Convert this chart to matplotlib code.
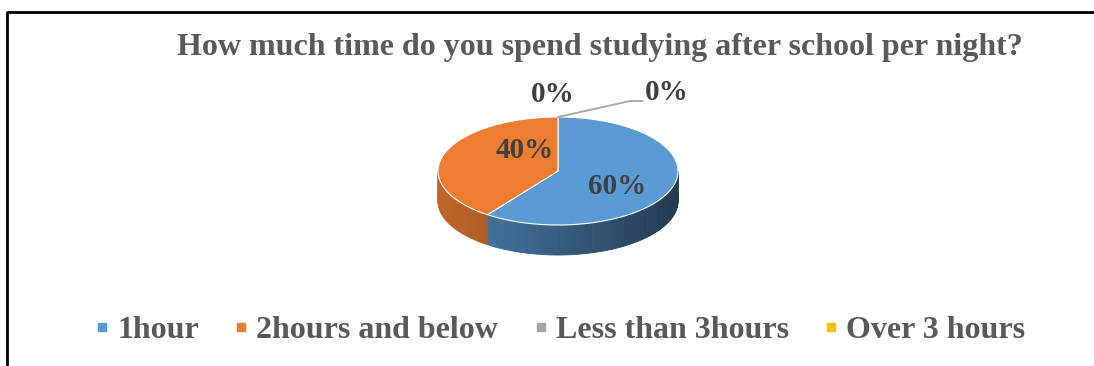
import matplotlib.pyplot as plt
import numpy as np
from matplotlib.patches import Polygon
from matplotlib.lines import Line2D
from matplotlib.colors import to_rgb

plt.rcParams['font.family'] = ['Liberation Serif', 'DejaVu Serif']

title = "How much time do you spend studying after school per night?"
categories = ["1hour", "2hours and below", "Less than 3hours", "Over 3 hours"]
values = [60, 40, 0, 0]
colors = ["#5B9BD5", "#ED7D31", "#A5A5A5", "#FFC000"]

W, H = 1094, 366
fig = plt.figure(figsize=(W / 100, H / 100), dpi=100)
ax = fig.add_axes([0, 0, 1, 1])
ax.set_xlim(0, W)
ax.set_ylim(0, H)
ax.axis('off')

# chart frame: only top and left edges are inside the canvas
ax.plot([7, 7, W], [0, H - 12, H - 12], color='black', lw=2, solid_capstyle='butt')

# 3D pie geometry (pixel units, y up)
cx, cy = 558, 195
a, b, depth = 120, 54, 30


def ell(phi):
    r = np.radians(phi)
    return cx + a * np.cos(r), cy + b * np.sin(r)


def shade(col, f):
    return tuple(min(1, c * f) for c in to_rgb(col))


# slices go clockwise from 12 o'clock
total = sum(values)
starts = []
ang = 90.0
for v in values:
    sweep = 360.0 * v / total
    starts.append((ang - sweep, ang))
    ang -= sweep

# side walls, drawn as narrow strips to get a lighting gradient
for (lo, hi), v, col in zip(starts, values, colors):
    if v == 0:
        continue
    for off in (0, 360, -360):
        s0, s1 = max(lo + off, 180), min(hi + off, 360)
        if s1 <= s0:
            continue
        steps = np.linspace(s0, s1, max(2, int((s1 - s0) / 1.5) + 1))
        for p0, p1 in zip(steps[:-1], steps[1:]):
            pm = np.radians((p0 + p1) / 2)
            f = 0.6 - 0.22 * np.cos(pm)
            x0, y0 = ell(p0)
            x1, y1 = ell(p1)
            ax.add_patch(Polygon([(x0, y0), (x1, y1), (x1, y1 - depth), (x0, y0 - depth)],
                                 closed=True, facecolor=shade(col, f), edgecolor=shade(col, f),
                                 lw=0.6, zorder=2))

# top faces
for (lo, hi), v, col in zip(starts, values, colors):
    if v == 0:
        continue
    phis = np.linspace(lo, hi, 200)
    pts = [(cx, cy)] + [ell(p) for p in phis]
    ax.add_patch(Polygon(pts, closed=True, facecolor=col, edgecolor='white',
                         lw=0.8, zorder=3))

# percentage labels (offsets from the pie centre)
label_kw = dict(fontsize=21, fontweight='bold', color='#404040', ha='center',
                va='center', zorder=5)
label_offsets = [(59, -16), (-33, 21)]
for v, (dx, dy) in zip(values, label_offsets):
    ax.text(cx + dx, cy + dy, f"{v}%", **label_kw)

# zero-size slices sit at 12 o'clock
top_x, top_y = ell(90)
ax.text(top_x - 5, H - 95, f"{values[2]}%", **label_kw)
ax.plot([top_x, top_x + 72, top_x + 84], [top_y, H - 101, H - 101],
        color='#A5A5A5', lw=1.3, zorder=4)
ax.text(top_x + 109, H - 93, f"{values[3]}%", **label_kw)

ax.text(600, H - 47, title, fontsize=23, fontweight='bold', color='#595959',
        ha='center', va='center')

handles = [Line2D([], [], marker='s', ls='none', markersize=6, color=c) for c in colors]
fig.legend(handles, categories, loc='center', bbox_to_anchor=(561 / W, 1 - 330 / H),
           ncol=4, frameon=False, handlelength=0.35, handletextpad=0.3, columnspacing=1.15,
           prop=dict(family='Liberation Serif', weight='bold', size=23),
           labelcolor='#595959')

fig.savefig('out.png', dpi=100)
